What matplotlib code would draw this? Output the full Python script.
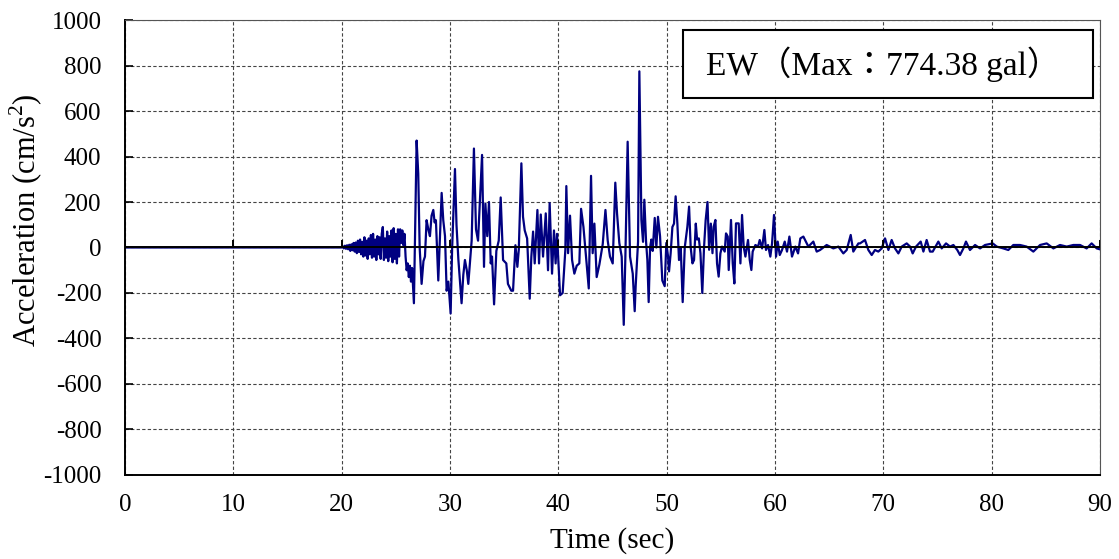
import matplotlib
matplotlib.use('Agg')
import matplotlib.pyplot as plt
from matplotlib.patches import Rectangle

plt.rcParams['font.family'] = ['Liberation Serif', 'Noto Sans CJK JP']
plt.rcParams['mathtext.fontset'] = 'custom'
plt.rcParams['mathtext.rm'] = 'Liberation Serif'
plt.rcParams['axes.unicode_minus'] = False

# EW acceleration record
t_sec = [0.0, 20.0,
         20.1, 20.2, 20.3, 20.4, 20.5, 20.6, 20.7, 20.8, 20.9, 21.0,
         21.1, 21.2, 21.3, 21.4, 21.5, 21.6, 21.7, 21.8, 21.9, 22.0,
         22.1, 22.2, 22.3, 22.4, 22.5, 22.6, 22.7, 22.8, 22.9, 23.0,
         23.1, 23.2, 23.3, 23.4, 23.5, 23.6, 23.7, 23.8, 23.9, 24.0,
         24.1, 24.2, 24.3, 24.4, 24.5, 24.6, 24.7, 24.8, 24.9, 25.0,
         25.1, 25.2, 25.3, 25.4, 25.5, 25.6, 25.7, 25.8, 25.9, 26.0,
         26.1, 26.2, 26.3, 26.4, 26.5, 26.67,
         26.92, 27.07, 27.2, 27.38, 27.55, 27.69, 27.84, 28.0, 28.15, 28.3,
         28.46, 28.58, 28.7, 28.92, 29.08, 29.23, 29.38, 29.54, 29.69, 29.85,
         30.06, 30.2, 30.46, 30.6, 30.77, 30.92, 31.07, 31.23, 31.38, 31.55,
         31.69, 31.85, 32.0, 32.21, 32.4, 32.59, 32.96,
         33.14, 33.27, 33.44, 33.6, 33.76, 33.88, 34.07, 34.28, 34.5, 34.68,
         34.9, 35.2, 35.35, 35.66, 35.82, 36.04, 36.22, 36.35, 36.59, 36.74,
         36.9, 37.12, 37.36, 37.51, 37.67, 37.82, 38.07, 38.22, 38.38, 38.59,
         38.84, 39.05, 39.2, 39.42, 39.6, 39.75, 39.88,
         40.16, 40.4, 40.65, 40.74, 40.9, 41.08, 41.27, 41.48, 41.7, 41.94,
         42.1, 42.32, 42.56, 42.81, 43.02, 43.17, 43.33, 43.54, 43.79, 44.1,
         44.35, 44.56, 44.77, 45.02, 45.26, 45.42, 45.63, 45.85, 46.04, 46.19,
         46.4, 46.62, 46.87, 47.05,
         47.14, 47.36, 47.48, 47.67, 47.82, 47.94, 48.1, 48.22, 48.34, 48.47,
         48.59, 48.71, 48.9, 49.05, 49.2, 49.39, 49.6, 49.82, 49.97, 50.13,
         50.22, 50.37, 50.53, 50.68, 50.83, 50.99, 51.14, 51.3, 51.48, 51.67,
         51.91, 52.07, 52.22, 52.38, 52.53, 52.69, 52.81, 52.97, 53.12, 53.29,
         53.45, 53.6, 53.77, 53.92, 54.08, 54.23,
         54.34, 54.5, 54.65, 54.8, 54.96, 55.11, 55.36, 55.48, 55.64, 55.73,
         55.94, 56.1, 56.25, 56.4, 56.65, 56.81, 56.96, 57.11, 57.27, 57.51,
         57.67, 57.82, 57.94, 58.19, 58.44, 58.59, 58.81, 59.02, 59.17, 59.36,
         59.57, 59.73, 59.91, 60.1, 60.25, 60.44, 60.65, 60.9, 61.11, 61.33,
         61.57, 61.88, 62.13, 62.34, 62.62, 63.08, 63.54, 63.85, 64.16, 64.77,
         65.39, 65.85, 66.31, 66.62, 66.99, 67.23, 67.7,
         67.85, 68.31, 68.62, 68.93, 69.23, 69.54, 69.85, 70.16, 70.47, 70.77,
         71.08, 71.39, 71.7, 72.16, 72.47, 72.71, 73.02, 73.45, 73.7, 74.0,
         74.31, 74.56, 75.08, 75.39, 75.79, 76.16, 76.47, 76.83, 77.08, 77.39,
         77.63, 78.0, 78.47, 78.93, 79.39, 80.1, 80.47, 81.08, 81.54, 82.0,
         82.62, 83.23, 83.85, 84.47, 85.08, 85.7, 86.31, 86.93, 87.54, 88.16,
         88.77, 89.23, 89.7, 90.0]

acc = [0, 0,
       5, -4, 8, -6, 10, -8, 12, -15, 14, -12,
       20, -18, 22, -25, 30, -20, 35, -30, 25, -40,
       45, -35, 30, -50, 40, -30, 55, -45, 60, -40,
       35, -55, 50, -30, 45, -50, 60, 90, -55, 40,
       -45, 70, -60, 50, -40, 75, -65, 85, -50, 60,
       -70, 80, -40, 80, 20, 75, 10, 60, -40, -100,
       -70, -130, -80, -150, -90, -245,
       470, 325, 0, -160, -60, -40, 120, 80, 50, 140,
       165, 110, 120, -145, 60, 240, 120, 50, -190, -150,
       -290, 0, 345, 100, -50, -150, -245, -120, -55, -100,
       -160, -60, 30, 435, 80, 30, 407,
       -85, 193, 50, 200, -70, -40, -250, -15, 30, 220,
       -55, -70, -160, -190, -190, 10, -85, -10, 370, 135,
       75, 40, -225, -40, 70, -70, 165, -70, 145, -40,
       150, -100, 195, -115, 75, -70, 60,
       -210, -200, -10, 270, -25, 140, -55, -115, -80, -70,
       170, 90, -40, -180, 315, -25, 105, -130, -75, 15,
       165, 30, -40, -70, 285, 150, 20, -40, -340, -40,
       465, -40, -115, -280,
       -170, 25, 774.38, 120, 25, 210, 25, -55, -240, 0,
       35, -15, 130, 0, 135, 50, -145, -170, 20, -40,
       -105, -25, 90, 105, 225, 105, -55, 0, -240, 0,
       90, 180, 0, -70, -55, 105, 35, 40, -25, -200,
       0, 120, 200, -10, 105, -25,
       91, 121, -70, -128, -26, 4, -18, 62, 48, -99,
       121, -70, -158, 106, 106, -70, 143, 4, -40, 33,
       -55, -99, -18, 11, 4, 33, -4, 77, -11, 11,
       -40, 18, 143, -40, 26, -33, -11, 26, -18, 48,
       -40, 4, -26, 40, 48, 4, 26, -18, -11, 11,
       -4, 4, -26, -11, 55, -18, 18,
       18, 33, -11, -33, -11, -18, -4, 40, -11, 33,
       -4, -26, 4, 18, 4, -26, 4, 26, -18, 33,
       -18, -18, 26, -4, 18, 4, 11, -11, -33, -4,
       26, -11, 11, -4, 11, 18, 4, -4, -11, 11,
       11, 4, -18, 11, 18, -4, 11, 4, 11, 11,
       -4, 18, -4, -8]

x_ticks = [0, 10, 20, 30, 40, 50, 60, 70, 80, 90]
y_ticks = [-1000, -800, -600, -400, -200, 0, 200, 400, 600, 800, 1000]
peak_label = 'EW（Max：774.38 gal）'

fig = plt.figure(figsize=(11.19, 5.59), dpi=100)
ax = fig.add_axes([0.1117, 0.1503, 0.8713, 0.8139])

ax.plot(t_sec, acc, color='#000080', lw=1.6, zorder=2)
ax.axhline(0, color='black', lw=1.4, zorder=3)
ax.vlines(x_ticks, 0, 32, color='black', lw=1.4, zorder=3)

ax.set_xlim(0, 90)
ax.set_ylim(-1000, 1000)
ax.set_xticks(x_ticks)
ax.set_yticks(y_ticks)
ax.grid(True, color='#444444', linestyle=(0, (3, 2)), lw=0.8)
ax.tick_params(axis='x', length=0, pad=14, labelsize=18)
ax.tick_params(axis='y', direction='in', length=6, width=1.2, pad=17, labelsize=18)
for side in ['left', 'bottom']:
    ax.spines[side].set_linewidth(1.4)
for side in ['top', 'right']:
    ax.spines[side].set_linewidth(0.8)
    ax.spines[side].set_color('#555555')

ax.set_xlabel('Time (sec)', fontsize=21)
ax.xaxis.set_label_coords(0.5, -0.115)
ax.set_ylabel(r'Acceleration (cm/s$^{\mathrm{2}}$)', fontsize=22)
ax.yaxis.set_label_coords(-0.082, 0.56)

# label box with the peak value
ax.add_patch(Rectangle((0.572, 0.829), 0.421, 0.149, transform=ax.transAxes,
                       facecolor='white', edgecolor='black', lw=1.5, zorder=5))
ax.text(0.778, 0.903, peak_label, transform=ax.transAxes, fontsize=24,
        ha='center', va='center', zorder=6)

fig.savefig('out.png', dpi=100)
